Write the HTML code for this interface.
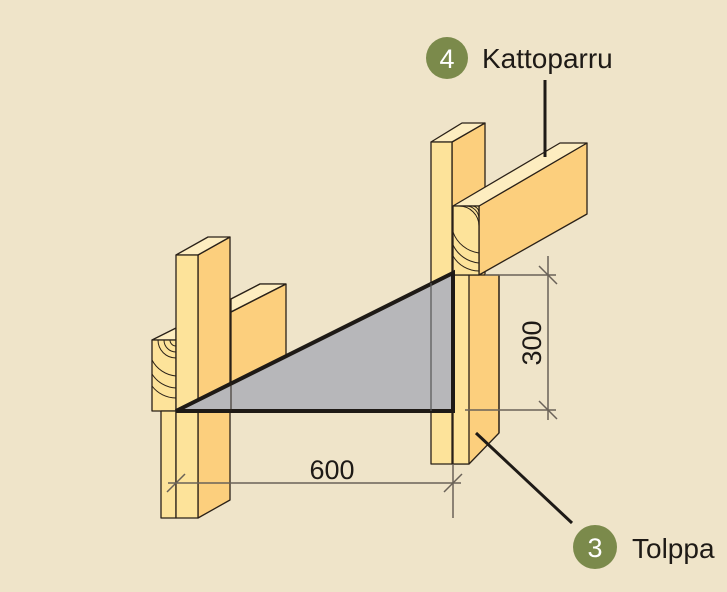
<!DOCTYPE html>
<html><head><meta charset="utf-8"><style>
html,body{margin:0;padding:0;background:#efe4c9;}
svg{display:block}
text{font-family:"Liberation Sans",sans-serif;}
</style></head><body>
<svg width="727" height="592" viewBox="0 0 727 592" xmlns="http://www.w3.org/2000/svg">
<rect width="727" height="592" fill="#efe4c9"/>
<g stroke="#2a2118" stroke-width="1.3" stroke-linejoin="round">
<!-- left back beam -->
<polygon points="231,299 260,284 286,284 286,405 231,405" fill="#fccf7d"/>
<polygon points="231,299 260,284 286,284 231,312" fill="#fdedc0"/>
<line x1="231" y1="312" x2="286" y2="284"/>
<!-- left end grain -->
<polygon points="152,340 176,328 176,340" fill="#fdedc0"/>
<rect x="152" y="340" width="24" height="71" fill="#fde39a"/>
<g fill="none" stroke-width="1">
<path d="M158,340 A18,18 0 0 0 176,358"/>
<path d="M164,340 A12,12 0 0 0 176,352"/>
<path d="M170,340 A6,6 0 0 0 176,346"/>
<path d="M152,360 A30,30 0 0 0 176,376"/>
<path d="M152,374 A30,30 0 0 0 176,388"/>
<path d="M152,386 A30,30 0 0 0 176,398"/>
</g>
<!-- lower stud left -->
<rect x="161" y="411" width="15" height="107" fill="#fde39a"/>
<!-- left post -->
<polygon points="198,255 230,237 230,500 198,518" fill="#fccf7d"/>
<polygon points="176,255 208,237 230,237 198,255" fill="#fdedc0"/>
<rect x="176" y="255" width="22" height="263" fill="#fde39a"/>
<!-- right post -->
<polygon points="452,142 485,123 485,430 452,464" fill="#fccf7d"/>
<polygon points="431,142 462,123 485,123 452,142" fill="#fdedc0"/>
<rect x="431" y="142" width="21" height="322" fill="#fde39a"/>
<polygon points="453,275 499,275 499,433 469,464 453,464" fill="#fccf7d"/>
<rect x="453" y="275" width="16" height="189" fill="#fde39a"/>
<line x1="499" y1="275" x2="499" y2="433"/>
<!-- rafter -->
<polygon points="479,206 587,143 587,214 479,275" fill="#fccf7d"/>
<polygon points="453,206 560,143 587,143 479,206" fill="#fdedc0"/>
<rect x="453" y="206" width="26" height="69" fill="#fde39a"/>
<g fill="none" stroke-width="1">
<path d="M459,206 A20,20 0 0 1 479,226"/>
<path d="M466,206 A13,13 0 0 1 479,219"/>
<path d="M472,206 A7,7 0 0 1 479,213"/>
<path d="M453,232 A32,32 0 0 0 479,253"/>
<path d="M453,245 A32,32 0 0 0 479,263"/>
<path d="M453,256 A30,30 0 0 0 479,271"/>
</g>
</g>
<!-- triangle -->
<polygon points="176,411 453,273 453,411" fill="#b7b7ba" stroke="#1e1a16" stroke-width="4" stroke-linejoin="miter"/>
<line x1="231" y1="383" x2="231" y2="411" stroke="#2a2118" stroke-width="1"/>
<line x1="431" y1="283" x2="431" y2="411" stroke="#555" stroke-width="1.2"/>
<!-- dimensions -->
<g stroke="#6a6258" stroke-width="1.5" fill="none">
<line x1="168" y1="483" x2="461" y2="483"/>
<line x1="453" y1="464" x2="453" y2="518"/>
<line x1="167" y1="492" x2="185" y2="474"/>
<line x1="444" y1="492" x2="462" y2="474"/>
<line x1="548" y1="256" x2="548" y2="420"/>
<line x1="485" y1="275" x2="556" y2="275"/>
<line x1="465" y1="410" x2="556" y2="410"/>
<line x1="539" y1="266" x2="557" y2="284"/>
<line x1="539" y1="401" x2="557" y2="419"/>
</g>
<text x="332" y="479" font-size="27" text-anchor="middle" fill="#1e1a16">600</text>
<text transform="translate(541,343) rotate(-90)" font-size="27" text-anchor="middle" fill="#1e1a16">300</text>
<!-- labels -->
<line x1="545" y1="80" x2="545" y2="157" stroke="#1e1a16" stroke-width="3"/>
<circle cx="447" cy="58" r="21" fill="#7b8a4b"/>
<text x="447" y="68" font-size="27" text-anchor="middle" fill="#fff">4</text>
<text x="482" y="68" font-size="28" fill="#1e1a16">Kattoparru</text>
<line x1="476" y1="433" x2="572" y2="523" stroke="#1e1a16" stroke-width="3"/>
<circle cx="595" cy="547" r="22" fill="#7b8a4b"/>
<text x="595" y="557" font-size="27" text-anchor="middle" fill="#fff">3</text>
<text x="632" y="558" font-size="28" fill="#1e1a16">Tolppa</text>
</svg>
</body></html>
